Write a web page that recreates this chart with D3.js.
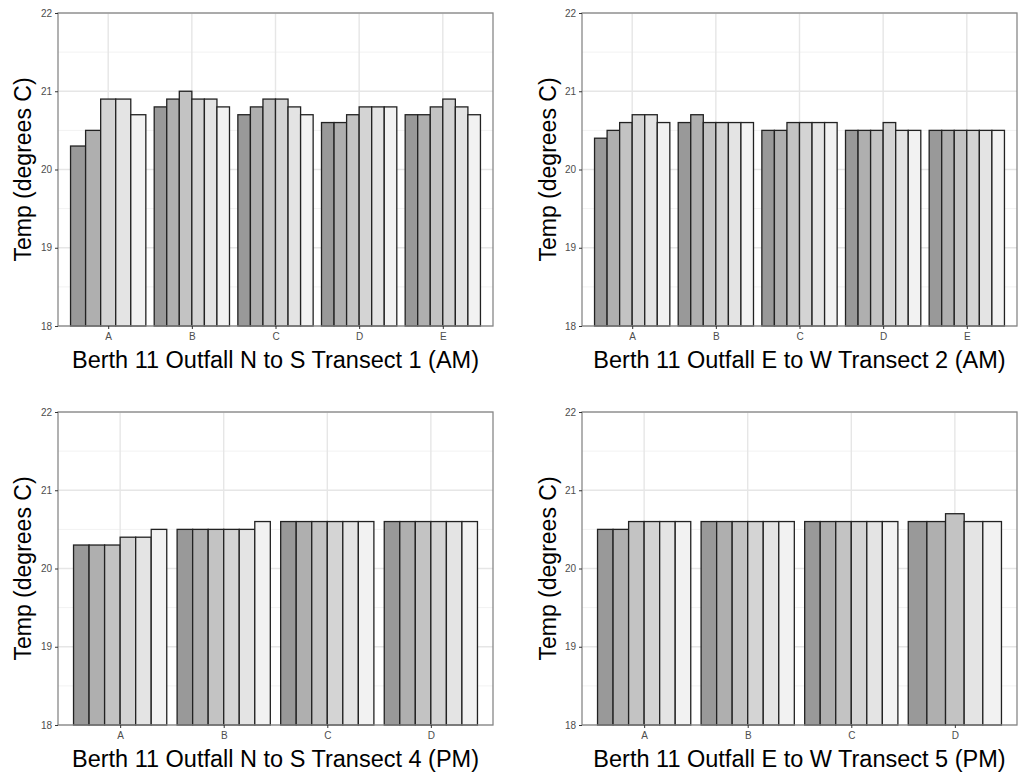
<!DOCTYPE html>
<html>
<head>
<meta charset="utf-8">
<script src="https://cdn.jsdelivr.net/npm/d3@7"></script>
<style>
  body { margin: 0; background: #fff; }
  svg { font-family: "Liberation Sans", Arial, sans-serif; }
</style>
</head>
<body>
<div class="chart"></div>
<script>
// Series (6 readings per station), shaded light to dark grey
const seriesLevels = ["1", "2", "3", "4", "5", "6"];
const greyFills = ["#999999", "#afafaf", "#c3c3c3", "#d4d4d4", "#e4e4e4", "#f2f2f2"];

// y axis ticks
const yTicks = [18, 19, 20, 21, 22];

// Transect 1 (AM), N to S
const t1Stations = ["A", "B", "C", "D", "E"];
const t1Temps = [
  [20.3, 20.5, null, 20.9, 20.9, 20.7],
  [20.8, 20.9, 21.0, 20.9, 20.9, 20.8],
  [20.7, 20.8, 20.9, 20.9, 20.8, 20.7],
  [20.6, 20.6, 20.7, 20.8, 20.8, 20.8],
  [20.7, 20.7, 20.8, 20.9, 20.8, 20.7]
];

// Transect 2 (AM), E to W
const t2Stations = ["A", "B", "C", "D", "E"];
const t2Temps = [
  [20.4, 20.5, 20.6, 20.7, 20.7, 20.6],
  [20.6, 20.7, 20.6, 20.6, 20.6, 20.6],
  [20.5, 20.5, 20.6, 20.6, 20.6, 20.6],
  [20.5, 20.5, 20.5, 20.6, 20.5, 20.5],
  [20.5, 20.5, 20.5, 20.5, 20.5, 20.5]
];

// Transect 4 (PM), N to S
const t4Stations = ["A", "B", "C", "D"];
const t4Temps = [
  [20.3, 20.3, 20.3, 20.4, 20.4, 20.5],
  [20.5, 20.5, 20.5, 20.5, 20.5, 20.6],
  [20.6, 20.6, 20.6, 20.6, 20.6, 20.6],
  [20.6, 20.6, 20.6, 20.6, 20.6, 20.6]
];

// Transect 5 (PM), E to W
const t5Stations = ["A", "B", "C", "D"];
const t5Temps = [
  [20.5, 20.5, 20.6, 20.6, 20.6, 20.6],
  [20.6, 20.6, 20.6, 20.6, 20.6, 20.6],
  [20.6, 20.6, 20.6, 20.6, 20.6, 20.6],
  [20.6, 20.6, 20.7, null, 20.6, 20.6]
];

const panels = [
  { title: "Berth 11 Outfall N to S Transect 1 (AM)", stations: t1Stations, temps: t1Temps, x: 58, y: 13 },
  { title: "Berth 11 Outfall E to W Transect 2 (AM)", stations: t2Stations, temps: t2Temps, x: 582, y: 13 },
  { title: "Berth 11 Outfall N to S Transect 4 (PM)", stations: t4Stations, temps: t4Temps, x: 58, y: 412 },
  { title: "Berth 11 Outfall E to W Transect 5 (PM)", stations: t5Stations, temps: t5Temps, x: 582, y: 412 }
];

const plotW = 435, plotH = 313;

const svg = d3.select(".chart")
  .append("svg")
  .attr("width", 1020)
  .attr("height", 778);

const fill = d3.scaleOrdinal().domain(seriesLevels).range(greyFills);

panels.forEach(p => {
  const g = svg.append("g").attr("transform", `translate(${p.x},${p.y})`);

  // discrete x: positions 1..n with 0.6 padding each side (ggplot style)
  const n = p.stations.length;
  const x = d3.scaleLinear().domain([0.4, n + 0.6]).range([0, plotW]);
  const y = d3.scaleLinear().domain([18, 22]).range([plotH, 0]);

  // minor grid
  g.selectAll(".minor").data([18.5, 19.5, 20.5, 21.5]).enter().append("line")
    .attr("x1", 0).attr("x2", plotW)
    .attr("y1", d => y(d)).attr("y2", d => y(d))
    .attr("stroke", "#f2f2f2").attr("stroke-width", 1);

  // major grid
  g.selectAll(".ygrid").data(yTicks).enter().append("line")
    .attr("x1", 0).attr("x2", plotW)
    .attr("y1", d => y(d)).attr("y2", d => y(d))
    .attr("stroke", "#e6e6e6").attr("stroke-width", 1.4);
  g.selectAll(".xgrid").data(p.stations).enter().append("line")
    .attr("x1", (d, i) => x(i + 1)).attr("x2", (d, i) => x(i + 1))
    .attr("y1", 0).attr("y2", plotH)
    .attr("stroke", "#e6e6e6").attr("stroke-width", 1.4);

  // bars, dodged within each station; missing levels widen the rest
  p.temps.forEach((row, i) => {
    const present = row.map((v, k) => ({ v, level: seriesLevels[k] })).filter(d => d.v !== null);
    const inner = d3.scaleBand()
      .domain(present.map(d => d.level))
      .range([x(i + 1 - 0.45), x(i + 1 + 0.45)]);
    g.selectAll(null).data(present).enter().append("rect")
      .attr("x", d => inner(d.level))
      .attr("width", inner.bandwidth())
      .attr("y", d => y(d.v))
      .attr("height", d => y(18) - y(d.v))
      .attr("fill", d => fill(d.level))
      .attr("stroke", "#222")
      .attr("stroke-width", 1.3);
  });

  // panel border
  g.append("rect")
    .attr("width", plotW).attr("height", plotH)
    .attr("fill", "none").attr("stroke", "#888").attr("stroke-width", 1.3);

  // axes
  const yAxis = d3.axisLeft(y).tickValues(yTicks).tickFormat(d3.format("d"))
    .tickSize(3).tickPadding(3);
  const gy = g.append("g").call(yAxis);
  const xAxis = d3.axisBottom(x).tickValues(d3.range(1, n + 1))
    .tickFormat(d => p.stations[d - 1]).tickSize(3).tickPadding(4);
  const gx = g.append("g").attr("transform", `translate(0,${plotH})`).call(xAxis);
  [gy, gx].forEach(a => {
    a.select(".domain").remove();
    a.selectAll(".tick line").attr("stroke", "#333");
    a.selectAll(".tick text").attr("fill", "#4d4d4d").style("font-size", "10px");
  });

  // axis titles
  g.append("text")
    .attr("x", plotW / 2).attr("y", plotH + 42)
    .attr("text-anchor", "middle")
    .style("font-size", "23.5px")
    .text(p.title);
  g.append("text")
    .attr("transform", `translate(${31 - p.x + (p.x > 300 ? 525 : 0)},${plotH / 2}) rotate(-90)`)
    .attr("text-anchor", "middle")
    .style("font-size", "23px")
    .text("Temp (degrees C)");
});
</script>
</body>
</html>
